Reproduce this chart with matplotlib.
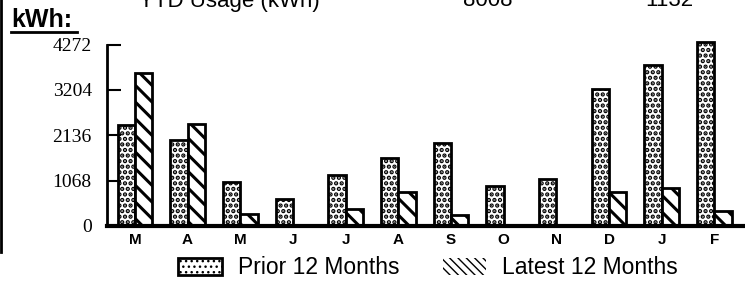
import numpy as np
import matplotlib
matplotlib.use('Agg')
import matplotlib.pyplot as plt
from matplotlib.patches import Patch
from matplotlib.lines import Line2D

months = ['M', 'A', 'M', 'J', 'J', 'A', 'S', 'O', 'N', 'D', 'J', 'F']
prior = [2370, 2015, 1040, 630, 1210, 1605, 1945, 930, 1105, 3220, 3800, 4320]
latest = [3600, 2395, 285, 0, 400, 790, 260, 0, 0, 790, 885, 350]
yticks = [0, 1068, 2136, 3204, 4272]
ytd_label = 'YTD Usage (kWh)'
ytd_values = ['8008', '1132']

plt.rcParams['hatch.linewidth'] = 2.2

fig = plt.figure(figsize=(7.45, 2.84), dpi=100)
ax = fig.add_axes([107 / 745, 58 / 284, 638 / 745, 181.5 / 284])

x = np.arange(len(months))
w = 0.33
ax.bar(x - w / 2, prior, w, facecolor='white', edgecolor='black', hatch='...',
       linewidth=2, clip_on=False, label='Prior 12 Months')
ax.bar(x + w / 2, latest, w, facecolor='white', edgecolor='black', hatch='\\\\',
       linewidth=2, clip_on=False, label='Latest 12 Months')

ax.set_xlim(-0.53, 11.58)
ax.set_ylim(0, 4272)
ax.set_yticks(yticks)
ax.set_yticklabels([str(v) for v in yticks], family='Liberation Serif', fontsize=14)
ax.set_xticks(x)
ax.set_xticklabels(months, fontsize=11, fontweight='bold', family='Liberation Sans')
ax.tick_params(axis='y', direction='in', length=10, width=1.5, pad=11)
ax.tick_params(axis='x', length=0, pad=5)
for s in ['top', 'right']:
    ax.spines[s].set_visible(False)
ax.spines['left'].set_linewidth(2)
ax.spines['bottom'].set_linewidth(3)

# header text (partly cut off at the top, as in the source)
fig.text(229 / 745, 1 - 1 / 284, ytd_label, ha='center', va='center', fontsize=16,
         family='Liberation Sans')
fig.text(488 / 745, 1 - 1 / 284, ytd_values[0], ha='center', va='center', fontsize=16,
         family='Liberation Sans')
fig.text(669 / 745, 1 - 1 / 284, ytd_values[1], ha='center', va='center', fontsize=16,
         family='Liberation Sans')
fig.text(11 / 745, 1 - 20 / 284, 'kWh:', ha='left', va='center', fontsize=18,
         fontweight='bold', family='Liberation Sans')
fig.add_artist(Line2D([11 / 745, 77 / 745], [1 - 32 / 284] * 2, color='black', lw=2))
fig.add_artist(Line2D([1 / 745, 1 / 745], [1, 1 - 252 / 284], color='black', lw=2))

# finer hatch for the legend key of the latest series
plt.rcParams['hatch.linewidth'] = 1.0
handles = [Patch(facecolor='white', edgecolor='black', hatch='...', linewidth=2),
           Patch(facecolor='white', edgecolor='black', hatch='\\\\\\\\', linewidth=0)]
fig.legend(handles, ['Prior 12 Months', 'Latest 12 Months'], loc='center',
           bbox_to_anchor=(428 / 745, 1 - 268 / 284), ncol=2, frameon=False,
           prop={'family': 'Liberation Sans', 'size': 16.5}, handlelength=1.9,
           handleheight=0.8, handletextpad=0.7, columnspacing=1.9, borderpad=0)

fig.savefig('out.png', dpi=100)
